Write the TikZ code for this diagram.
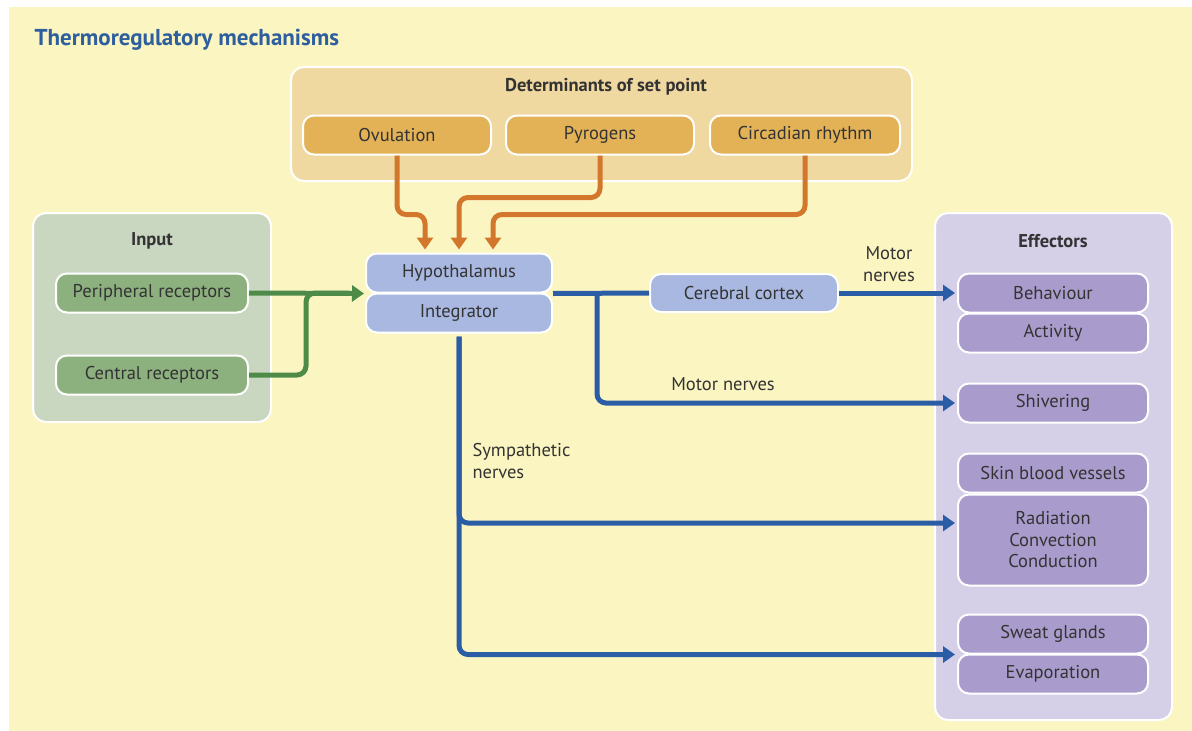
\documentclass[tikz,border=0pt]{standalone}
\usepackage{fontspec}
\setmainfont{PT Sans}
\usetikzlibrary{arrows.meta}
\definecolor{bg}{HTML}{FBF5C1}
\definecolor{detout}{HTML}{F0D8A1}
\definecolor{detbox}{HTML}{E3B257}
\definecolor{orarr}{HTML}{D2772B}
\definecolor{inout}{HTML}{C9D7C1}
\definecolor{inbox}{HTML}{8DB07F}
\definecolor{grarr}{HTML}{4E8B48}
\definecolor{hypbox}{HTML}{A9B8E1}
\definecolor{blarr}{HTML}{2B5DA6}
\definecolor{effout}{HTML}{D5CFE8}
\definecolor{effbox}{HTML}{A99CCC}
\definecolor{titleblue}{HTML}{2D5E9E}
\definecolor{txt}{HTML}{333333}
\tikzset{
  panel/.style={draw=white, line width=2pt, rounded corners=13pt},
  box/.style={draw=white, line width=2pt, rounded corners=11pt, text=txt,
    font=\fontsize{18.5}{21.5}\selectfont, align=center, inner sep=0pt},
  head/.style={text=txt, font=\fontsize{18.5}{22}\selectfont\bfseries},
  lbl/.style={text=txt, font=\fontsize{18.5}{22}\selectfont},
  org/.style={draw=orarr, line width=5pt, rounded corners=9pt, -{Triangle[length=12pt,width=16pt]}},
  grn/.style={draw=grarr, line width=5pt, rounded corners=9pt},
  blu/.style={draw=blarr, line width=5pt, rounded corners=9pt},
  tip/.style={-{Triangle[length=12pt,width=16pt]}},
}
\begin{document}
\begin{tikzpicture}[x=1pt,y=-1pt]
\useasboundingbox (0,0) rectangle (1192,731);
\fill[bg] (9,7) rectangle (1192,731);
\node[anchor=west, text=titleblue, font=\fontsize{23}{26}\selectfont\bfseries] (title) at (31,40) {Thermoregulatory mechanisms};

% panels
\draw[panel, fill=detout] (291,67) rectangle (912,181);
\node[head] (dethead) at (606,87) {Determinants of set point};
\draw[panel, fill=inout] (33,213) rectangle (271,422);
\node[head] (inhead) at (152,241) {Input};
\draw[panel, fill=effout] (935,213) rectangle (1172,720);
\node[head] (effhead) at (1053,241) {Effectors};

% determinant boxes
\node[box, fill=detbox, minimum width=188pt, minimum height=39pt] (ovul) at (397,135) {Ovulation};
\node[box, fill=detbox, minimum width=188pt, minimum height=39pt] (pyro) at (600,135) {Pyrogens};
\node[box, fill=detbox, minimum width=190pt, minimum height=39pt] (circ) at (805,135) {Circadian rhythm};

% input boxes
\node[box, fill=inbox, minimum width=192pt, minimum height=39pt] (periph) at (152,293) {Peripheral receptors};
\node[box, fill=inbox, minimum width=192pt, minimum height=39pt] (central) at (152,375) {Central receptors};

% hypothalamus
\node[box, fill=hypbox, minimum width=186pt, minimum height=39pt] (hypo) at (459,273) {Hypothalamus};
\node[box, fill=hypbox, minimum width=186pt, minimum height=39pt] (integ) at (459,313) {Integrator};
\node[box, fill=hypbox, minimum width=188pt, minimum height=38pt] (cortex) at (744,293) {Cerebral cortex};

% effectors
\node[box, fill=effbox, minimum width=190pt, minimum height=39pt] (behav) at (1053,293) {Behaviour};
\node[box, fill=effbox, minimum width=190pt, minimum height=39pt] (activ) at (1053,333) {Activity};
\node[box, fill=effbox, minimum width=190pt, minimum height=39pt] (shiv) at (1053,403) {Shivering};
\node[box, fill=effbox, minimum width=190pt, minimum height=39pt] (skin) at (1053,473) {Skin blood vessels};
\node[box, fill=effbox, minimum width=190pt, minimum height=91pt] (rad) at (1053,540) {Radiation\\Convection\\Conduction};
\node[box, fill=effbox, minimum width=190pt, minimum height=39pt] (sweat) at (1053,634) {Sweat glands};
\node[box, fill=effbox, minimum width=190pt, minimum height=39pt] (evap) at (1053,674) {Evaporation};

% orange arrows
\draw[org] (ovul.south) -- ++(0,59) -| ([xshift=-34pt,yshift=3pt]hypo.north);
\draw[org] (pyro.south) -- ++(0,42) -| ([yshift=3pt]hypo.north);
\draw[org] (circ.south) -- ++(0,59) -| ([xshift=34pt,yshift=3pt]hypo.north);

% green arrows
\coordinate (gj) at (306,293);
\draw[grn] (central.east) -| (gj) -- ([xshift=-16pt]gj -| hypo.south west);
\draw[grn, tip] (periph.east) -- ([xshift=-1pt]hypo.south west);

% blue arrows
\coordinate (bj) at (597,293);
\draw[blu] (hypo.south east) -- (cortex.west);
\draw[blu, tip] (cortex.east) -- ([xshift=-2pt]behav.west);
\draw[blu, tip] (bj) |- ([xshift=-2pt]shiv.west);
\draw[blu, tip] ([yshift=-3pt]integ.south) |- ([xshift=-2pt,yshift=17pt]rad.west);
\draw[blu, tip] ([yshift=-3pt]integ.south) |- ([xshift=-2pt]sweat.south west);

% labels
\node[lbl, align=center] (m1) at (889,264) {Motor\\nerves};
\node[lbl] (m2) at (723,384) {Motor nerves};
\node[lbl, align=left, anchor=north west] (sym) at (469,440) {Sympathetic\\nerves};
\end{tikzpicture}
\end{document}
